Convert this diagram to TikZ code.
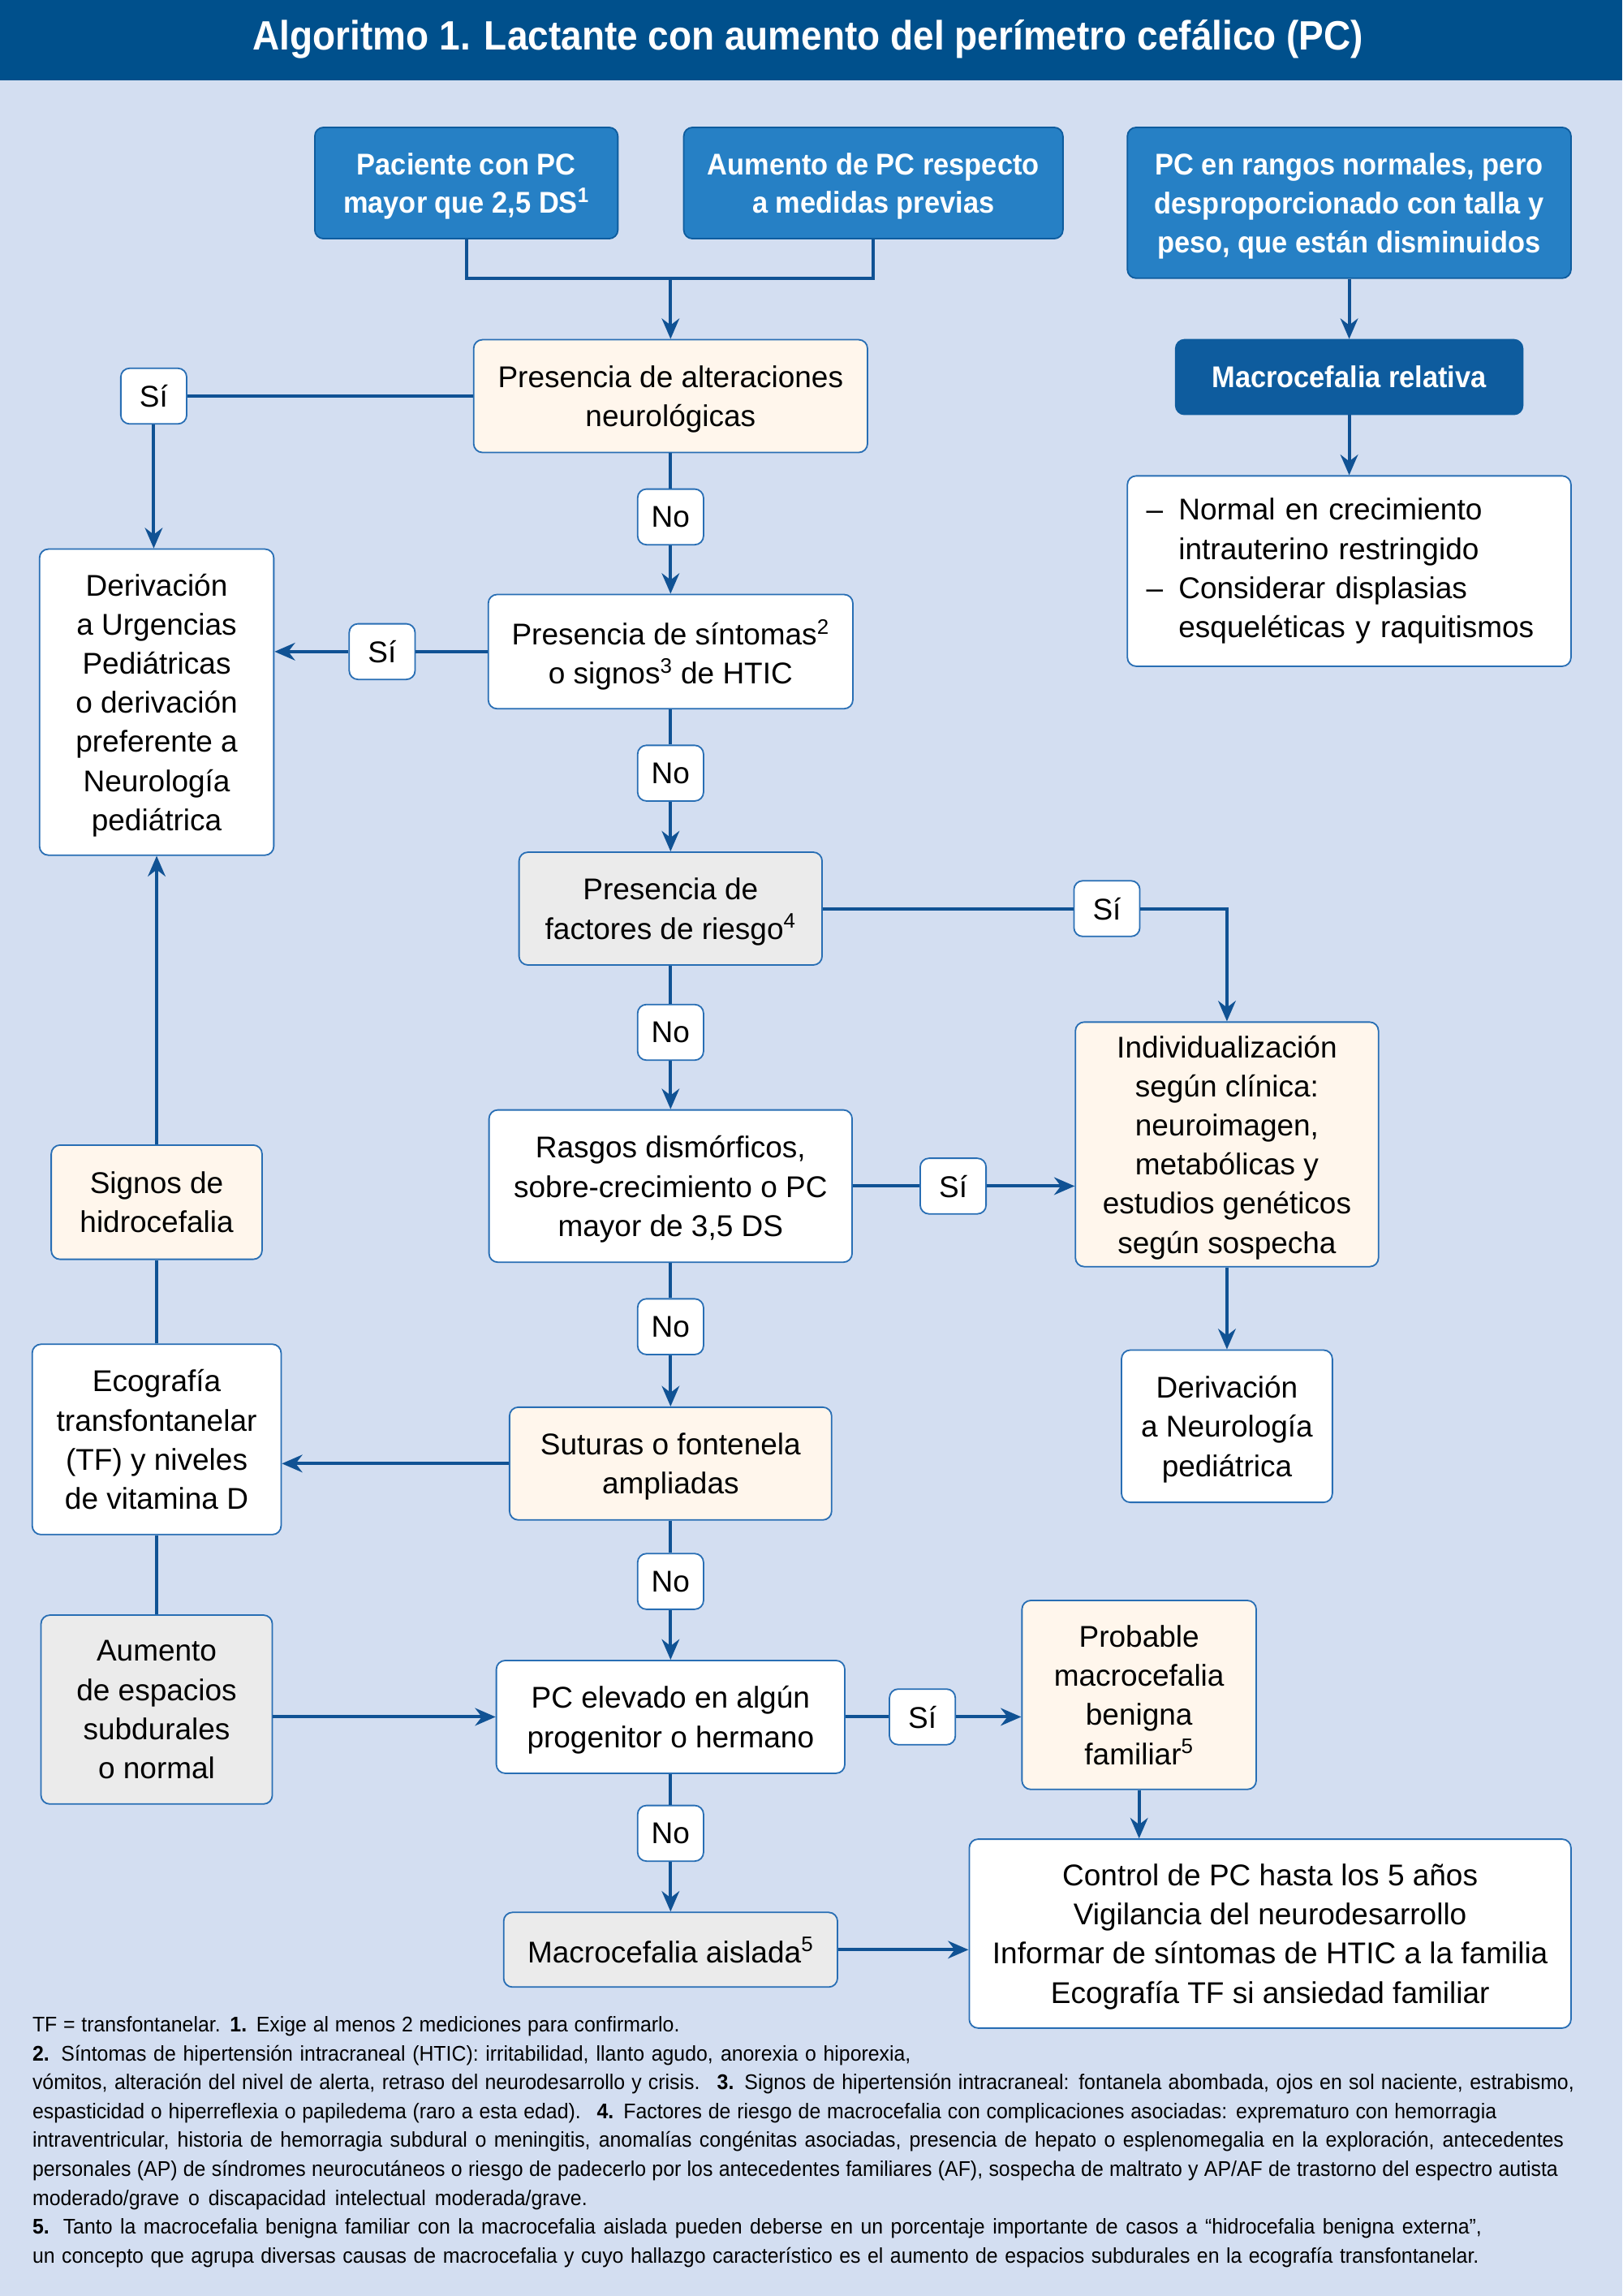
\documentclass[tikz,border=0pt]{standalone}
\usepackage{fontspec}
\setmainfont{Liberation Sans}
\newfontfamily\titlefont{Liberation Sans}[FakeStretch=0.91]
\newfontfamily\bboxfont{Liberation Sans}[FakeStretch=0.93]
\newfontfamily\notefont{Liberation Sans}[FakeStretch=0.95]
\usetikzlibrary{arrows.meta}
\definecolor{bg}{RGB}{211,222,241}
\definecolor{titlebg}{RGB}{0,80,140}
\definecolor{topblue}{RGB}{38,128,197}
\definecolor{darkblue}{RGB}{14,92,158}
\definecolor{lineblue}{RGB}{16,82,148}
\definecolor{bordblue}{RGB}{40,110,180}
\definecolor{cream}{RGB}{255,246,236}
\definecolor{grayfill}{RGB}{235,235,235}
\begin{document}
\begin{tikzpicture}[x=1pt,y=-1pt,
 box/.style={draw=bordblue, line width=1pt, rounded corners=6pt, fill=white, align=center, inner sep=0pt, text depth=-2pt, font=\fontsize{20.5}{26.7}\selectfont},
 bluebox/.style={box, fill=topblue, draw=darkblue, text=white, font=\bboxfont\bfseries\fontsize{20.5}{26.5}\selectfont},
 lab/.style={box, minimum width=45pt, minimum height=38pt},
 wire/.style={draw=lineblue, line width=2.2pt},
 arr/.style={wire, -{Stealth[length=14pt,width=12pt]}},
 note/.style={anchor=base west, inner sep=0pt, font=\notefont\fontsize{14.5}{19}\selectfont},
]
\fill[bg] (0,0) rectangle (1108,1568);
\fill[titlebg] (0,0) rectangle (1108,55);
\node[text=white, font=\titlefont\bfseries\fontsize{28}{30}\selectfont] (T) at (552,27) {Algoritmo 1. Lactante con aumento del perímetro cefálico (PC)};

% top boxes
\node[bluebox, minimum width=207pt, minimum height=76pt] (B1) at (318.5,125) {Paciente con PC\\mayor que 2,5 DS\textsuperscript{1}};
\node[bluebox, minimum width=259pt, minimum height=76pt] (B2) at (596.5,125) {Aumento de PC respecto\\a medidas previas};
\node[bluebox, minimum width=303pt, minimum height=103pt] (B3) at (921.5,138.5) {PC en rangos normales, pero\\desproporcionado con talla y\\peso, que están disminuidos};
\node[bluebox, fill=darkblue, minimum width=237pt, minimum height=51pt] (MR) at (921.5,257.5) {Macrocefalia relativa};
\node[box, text depth=, minimum width=303pt, minimum height=130pt, text width=277pt, inner xsep=13pt, align=left] (LST) at (921.5,390) {\makebox[22pt][l]{–}Normal en crecimiento\\\hspace*{22pt}intrauterino restringido\\\makebox[22pt][l]{–}Considerar displasias\\\hspace*{22pt}esqueléticas y raquitismos};

% main column
\node[box, fill=cream, minimum width=269pt, minimum height=77pt] (N1) at (458,270.5) {Presencia de alteraciones\\neurológicas};
\node[box, minimum width=160pt, minimum height=209pt] (D1) at (107,479.5) {Derivación\\a Urgencias\\Pediátricas\\o derivación\\preferente a\\Neurología\\pediátrica};
\node[box, minimum width=249pt, minimum height=78pt] (N2) at (458,445) {Presencia de síntomas\textsuperscript{2}\\o signos\textsuperscript{3} de HTIC};
\node[box, fill=grayfill, minimum width=207pt, minimum height=77pt] (N3) at (458,620.5) {Presencia de\\factores de riesgo\textsuperscript{4}};
\node[box, fill=cream, minimum width=207pt, minimum height=167pt] (IND) at (838,781.5) {Individualización\\según clínica:\\neuroimagen,\\metabólicas y\\estudios genéticos\\según sospecha};
\node[box, minimum width=248pt, minimum height=104pt] (N4) at (458,810) {Rasgos dismórficos,\\sobre-crecimiento o PC\\mayor de 3,5 DS};
\node[box, minimum width=144pt, minimum height=104pt] (DN) at (838,974) {Derivación\\a Neurología\\pediátrica};
\node[box, fill=cream, minimum width=220pt, minimum height=77pt] (N5) at (458,999.5) {Suturas o fontenela\\ampliadas};
\node[box, minimum width=170pt, minimum height=130pt] (ECO) at (107,983) {Ecografía\\transfontanelar\\(TF) y niveles\\de vitamina D};
\node[box, fill=cream, minimum width=144pt, minimum height=78pt] (SIG) at (107,821) {Signos de\\hidrocefalia};
\node[box, fill=grayfill, minimum width=158pt, minimum height=129pt] (AUM) at (107,1167.5) {Aumento\\de espacios\\subdurales\\o normal};
\node[box, minimum width=238pt, minimum height=77pt] (PCE) at (458,1172.5) {PC elevado en algún\\progenitor o hermano};
\node[box, fill=cream, minimum width=160pt, minimum height=129pt] (PROB) at (778,1157.5) {Probable\\macrocefalia\\benigna\\familiar\textsuperscript{5}};
\node[box, fill=grayfill, minimum width=228pt, minimum height=51pt] (MA) at (458,1331.5) {Macrocefalia aislada\textsuperscript{5}};
\node[box, minimum width=411pt, minimum height=129pt] (CTRL) at (867.5,1320.5) {Control de PC hasta los 5 años\\Vigilancia del neurodesarrollo\\Informar de síntomas de HTIC a la familia\\Ecografía TF si ansiedad familiar};

% labels
\node[lab] (L1) at (105,270.5) {Sí};
\node[lab] (L2) at (458,353) {No};
\node[lab] (L3) at (261,445) {Sí};
\node[lab] (L4) at (458,528) {No};
\node[lab] (L5) at (756,620.5) {Sí};
\node[lab] (L6) at (458,705) {No};
\node[lab] (L7) at (651,810) {Sí};
\node[lab] (L8) at (458,906) {No};
\node[lab] (L9) at (458,1080) {No};
\node[lab] (L10) at (630,1172.5) {Sí};
\node[lab] (L11) at (458,1252) {No};

% connectors
\coordinate (J) at (458,190);
\draw[wire] (B1.south) |- (J) -| (B2.south);
\draw[arr] (J) -- (N1.north);
\draw[arr] (B3.south) -- (MR.north);
\draw[arr] (MR.south) -- (LST.north);
\draw[wire] (N1.west) -- (L1.east);
\draw[arr] (L1.south) -- (L1.south |- D1.north);
\draw[wire] (N1.south) -- (L2.north);
\draw[arr] (L2.south) -- (N2.north);
\draw[wire] (N2.west) -- (L3.east);
\draw[arr] (L3.west) -- (L3.west -| D1.east);
\draw[wire] (N2.south) -- (L4.north);
\draw[arr] (L4.south) -- (N3.north);
\draw[wire] (N3.east) -- (L5.west);
\draw[arr] (L5.east) -| (IND.north);
\draw[wire] (N3.south) -- (L6.north);
\draw[arr] (L6.south) -- (N4.north);
\draw[wire] (N4.east) -- (L7.west);
\draw[arr] (L7.east) -- (L7.east -| IND.west);
\draw[arr] (IND.south) -- (DN.north);
\draw[wire] (N4.south) -- (L8.north);
\draw[arr] (L8.south) -- (N5.north);
\draw[arr] (N5.west) -- (N5.west -| ECO.east);
\draw[arr] (SIG.north) -- (D1.south);
\draw[wire] (ECO.north) -- (SIG.south);
\draw[wire] (ECO.south) -- (AUM.north);
\draw[arr] (AUM.east |- PCE.west) -- (PCE.west);
\draw[wire] (N5.south) -- (L9.north);
\draw[arr] (L9.south) -- (PCE.north);
\draw[wire] (PCE.east) -- (L10.west);
\draw[arr] (L10.east) -- (L10.east -| PROB.west);
\draw[arr] (PROB.south) -- (PROB.south |- CTRL.north);
\draw[wire] (PCE.south) -- (L11.north);
\draw[arr] (L11.south) -- (MA.north);
\draw[arr] (MA.east) -- (MA.east -| CTRL.west);

% footnotes
\node[note] (F1) at (22,1387.5) {\makebox[442pt][s]{TF = transfontanelar. \textbf{1.} Exige al menos 2 mediciones para confirmarlo.}};
\node[note] (F2) at (22,1407.25) {\makebox[600pt][s]{\textbf{2.} Síntomas de hipertensión intracraneal (HTIC): irritabilidad, llanto agudo, anorexia o hiporexia,}};
\node[note] (F3) at (22,1427) {\makebox[1053pt][s]{vómitos, alteración del nivel de alerta, retraso del neurodesarrollo y crisis. \ \textbf{3.} Signos de hipertensión intracraneal: fontanela abombada, ojos en sol naciente, estrabismo,}};
\node[note] (F4) at (22,1446.75) {\makebox[1000pt][s]{espasticidad o hiperreflexia o papiledema (raro a esta edad). \ \textbf{4.} Factores de riesgo de macrocefalia con complicaciones asociadas: exprematuro con hemorragia}};
\node[note] (F5) at (22,1466.5) {\makebox[1046pt][s]{intraventricular, historia de hemorragia subdural o meningitis, anomalías congénitas asociadas, presencia de hepato o esplenomegalia en la exploración, antecedentes}};
\node[note] (F6) at (22,1486.25) {\makebox[1042pt][s]{personales (AP) de síndromes neurocutáneos o riesgo de padecerlo por los antecedentes familiares (AF), sospecha de maltrato y AP/AF de trastorno del espectro autista}};
\node[note] (F7) at (22,1506) {\makebox[379pt][s]{moderado/grave o discapacidad intelectual moderada/grave.}};
\node[note] (F8) at (22,1525.75) {\makebox[990pt][s]{\textbf{5.} Tanto la macrocefalia benigna familiar con la macrocefalia aislada pueden deberse en un porcentaje importante de casos a “hidrocefalia benigna externa”,}};
\node[note] (F9) at (22,1545.5) {\makebox[988pt][s]{un concepto que agrupa diversas causas de macrocefalia y cuyo hallazgo característico es el aumento de espacios subdurales en la ecografía transfontanelar.}};
\end{tikzpicture}
\end{document}
